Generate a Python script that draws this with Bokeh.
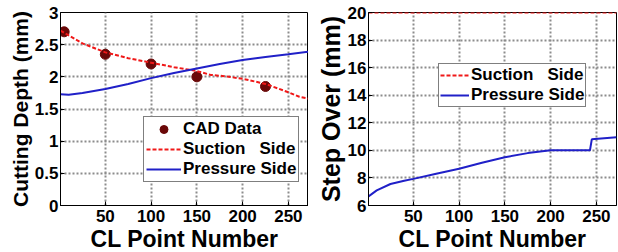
from bokeh.plotting import figure
from bokeh.layouts import row
from bokeh.models import Range1d, FixedTicker, Legend, LegendItem
from bokeh.embed import file_html
from bokeh.resources import INLINE

# ---- data (left: cutting depth) ----
cl_suction = [1, 25, 50, 75, 100, 125, 150, 165, 180, 200, 225, 250, 262, 272]
depth_suction = [2.72, 2.52, 2.38, 2.29, 2.22, 2.15, 2.09, 2.03, 2.01, 1.97, 1.89, 1.76, 1.69, 1.66]
cl_pressure = [1, 10, 25, 50, 75, 100, 125, 150, 175, 200, 225, 250, 272]
depth_pressure = [1.73, 1.72, 1.75, 1.81, 1.89, 1.98, 2.06, 2.13, 2.20, 2.26, 2.31, 2.35, 2.39]
cad_x = [5, 50, 100, 150, 225]
cad_y = [2.70, 2.35, 2.20, 2.00, 1.85]

# ---- data (right: step over) ----
so_suction_x = [1, 272]
so_suction_y = [20, 20]
so_pressure_x = [1, 10, 25, 40, 50, 75, 100, 125, 150, 175, 200, 243, 245, 272]
so_pressure_y = [6.66, 7.1, 7.56, 7.8, 7.93, 8.3, 8.66, 9.1, 9.5, 9.8, 10.0, 10.0, 10.8, 10.95]

x_ticks = [50, 100, 150, 200, 250]
y_ticks_left = [0, 0.5, 1, 1.5, 2, 2.5, 3]
y_ticks_right = [6, 8, 10, 12, 14, 16, 18, 20]
x_lim = (1, 272)
y_lim_left = (0, 3)
y_lim_right = (6, 20)

FONT = "Liberation Sans"
RED = "#f01818"
BLUE = "#2020c8"
MARK = "#6a0808"


def style(p, ylabel, yticks, ylabel_size):
    p.xaxis.ticker = FixedTicker(ticks=x_ticks)
    p.yaxis.ticker = FixedTicker(ticks=yticks)
    p.xaxis.axis_label = "CL Point Number"
    p.yaxis.axis_label = ylabel
    for ax in (p.xaxis, p.yaxis):
        ax.axis_label_text_font = FONT
        ax.axis_label_text_font_style = "bold"
        ax.axis_label_text_color = "black"
        ax.major_label_text_font = FONT
        ax.major_label_text_font_style = "bold"
        ax.major_label_text_font_size = "17px"
        ax.major_label_text_color = "black"
        ax.major_tick_in = 4
        ax.major_tick_out = 0
        ax.minor_tick_in = 0
        ax.minor_tick_out = 0
        ax.axis_line_color = "black"
        ax.major_tick_line_color = "black"
    p.xaxis.axis_label_text_font_size = "23px"
    p.yaxis.axis_label_text_font_size = ylabel_size
    p.xaxis.major_label_standoff = 4
    p.xaxis.axis_label_standoff = 1
    p.yaxis.major_label_standoff = 2
    p.yaxis.axis_label_standoff = 0
    for g in (p.xgrid, p.ygrid):
        g.grid_line_color = "#8c8c8c"
        g.grid_line_width = 2
        g.grid_line_dash = "2 2"
    p.outline_line_color = "black"
    p.outline_line_width = 1


# ---- left figure ----
p1 = figure(frame_width=248, frame_height=193, output_backend="svg", toolbar_location=None,
            x_range=Range1d(*x_lim), y_range=Range1d(*y_lim_left),
            min_border_left=60, min_border_right=0, min_border_top=12, min_border_bottom=47)
style(p1, "Cutting Depth (mm)", y_ticks_left, "21px")
r_cad = p1.scatter(cad_x, cad_y, size=10, color=MARK)
r_suc = p1.line(cl_suction, depth_suction, line_color=RED, line_width=2, line_dash="4 2")
r_pre = p1.line(cl_pressure, depth_pressure, line_color=BLUE, line_width=2)
leg1 = Legend(items=[LegendItem(label="CAD Data", renderers=[r_cad]),
                     LegendItem(label="Suction   Side", renderers=[r_suc]),
                     LegendItem(label="Pressure Side", renderers=[r_pre])],
              location=(83, 23), padding=2, glyph_width=35)
p1.add_layout(leg1, "center")

# ---- right figure ----
p2 = figure(frame_width=248, frame_height=193, output_backend="svg", toolbar_location=None,
            x_range=Range1d(*x_lim), y_range=Range1d(*y_lim_right),
            min_border_left=60, min_border_right=2, min_border_top=12, min_border_bottom=47)
style(p2, "Step Over (mm)", y_ticks_right, "25px")
r_suc2 = p2.line(so_suction_x, so_suction_y, line_color=RED, line_width=2, line_dash="4 2")
r_pre2 = p2.line(so_pressure_x, so_pressure_y, line_color=BLUE, line_width=2)
leg2 = Legend(items=[LegendItem(label="Suction   Side", renderers=[r_suc2]),
                     LegendItem(label="Pressure Side", renderers=[r_pre2])],
              location=(70, 98), padding=1, glyph_width=29)
p2.add_layout(leg2, "center")

for leg in (leg1, leg2):
    leg.label_text_font = FONT
    leg.label_text_font_style = "bold"
    leg.label_text_font_size = "17px"
    leg.label_text_color = "black"
    leg.label_height = 20
    leg.label_standoff = 2
    leg.glyph_height = 20
    leg.spacing = 0
    leg.margin = 0
    leg.border_line_color = "black"
    leg.border_line_width = 1
    leg.background_fill_color = "white"
    leg.background_fill_alpha = 1

layout = row(p1, p2)
open("out.html", "w").write(file_html(layout, INLINE))
